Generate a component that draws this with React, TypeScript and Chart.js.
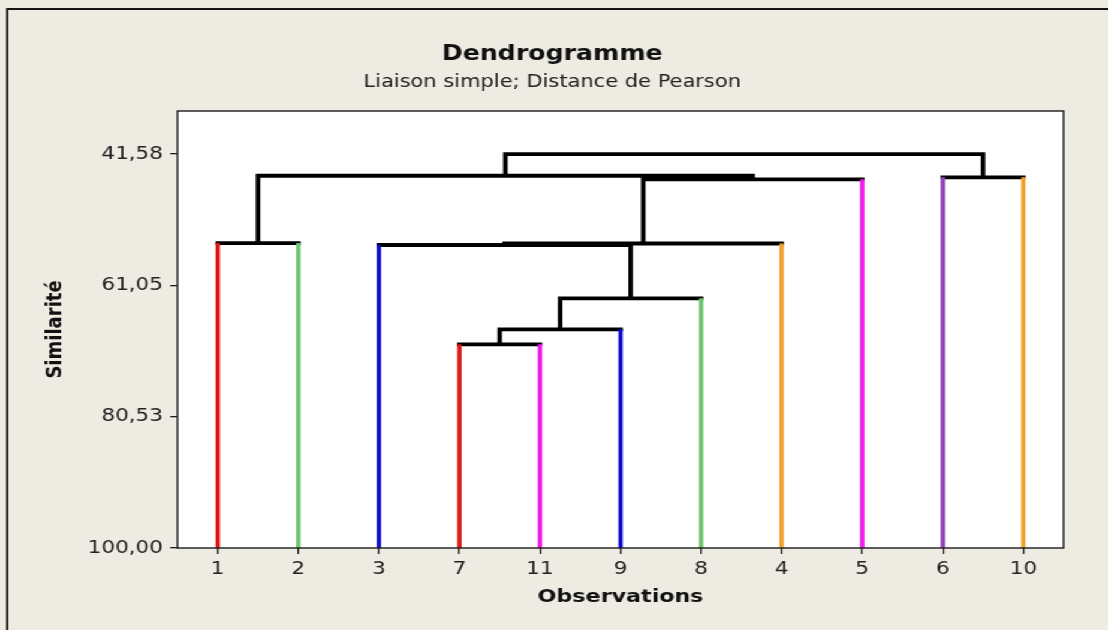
import React, { useEffect, useRef } from "react";
import { Chart, registerables } from "chart.js";

Chart.register(...registerables);

// ---- text ----
const chartTitle = "Dendrogramme";
const chartSubtitle = "Liaison simple; Distance de Pearson";
const xAxisTitle = "Observations";
const yAxisTitle = "Similarité";

// ---- leaves (in dendrogram order) ----
const leafLabels = ["1", "2", "3", "7", "11", "9", "8", "4", "5", "6", "10"];
const leafColors = [
  "#e01414", "#6cc46c", "#0c0cd4", "#e01414", "#f014f0", "#0c0cd4",
  "#6cc46c", "#f0a024", "#f014f0", "#9040b8", "#f0a024",
];

// ---- merges (children 0..10 = leaves by position, 11+k = cluster made by merge k) ----
const mergeLeft = [3, 11, 12, 0, 2, 15, 9, 16, 14, 19];
const mergeRight = [4, 5, 6, 1, 13, 7, 10, 8, 18, 17];
const mergeLevel = [69.8, 67.57, 62.98, 54.78, 55.07, 54.85, 45.03, 45.33, 44.8, 41.58];

// ---- y axis ----
const yTickValues = [41.58, 61.05, 80.53, 100];
const yTickLabels = ["41,58", "61,05", "80,53", "100,00"];
const yTop = 35.2;
const yBottom = 100;

const W = 924;
const H = 630;
const FONT = "'DejaVu Sans', Verdana, sans-serif";

function buildDatasets() {
  const n = leafLabels.length;
  const xs: number[] = leafLabels.map((_, i) => i);
  const parentLevel: (number | undefined)[] = [];
  mergeLeft.forEach((l, k) => {
    const r = mergeRight[k];
    xs.push((xs[l] + xs[r]) / 2);
    parentLevel[l] = mergeLevel[k];
    parentLevel[r] = mergeLevel[k];
  });
  const black: { x: number; y: number | null }[] = [];
  mergeLeft.forEach((l, k) => {
    const r = mergeRight[k];
    const lv = mergeLevel[k];
    black.push({ x: xs[l], y: lv }, { x: xs[r], y: lv }, { x: xs[r], y: null });
    const id = n + k;
    const p = parentLevel[id];
    if (p !== undefined) {
      black.push({ x: xs[id], y: lv }, { x: xs[id], y: p }, { x: xs[id], y: null });
    }
  });
  const sets: any[] = [
    {
      data: black,
      borderColor: "#000000",
      borderWidth: 3.8,
      borderCapStyle: "square",
      pointRadius: 0,
      spanGaps: false,
      tension: 0,
      order: 2,
    },
  ];
  leafLabels.forEach((_, i) => {
    sets.push({
      data: [
        { x: i, y: yBottom },
        { x: i, y: parentLevel[i] as number },
      ],
      borderColor: leafColors[i],
      borderWidth: 3.6,
      borderCapStyle: "butt",
      pointRadius: 0,
      tension: 0,
      order: 1,
    });
  });
  return sets;
}

const framePlugin = {
  id: "frame",
  beforeDraw(chart: any) {
    const { ctx, chartArea: a, width, height } = chart;
    ctx.save();
    ctx.fillStyle = "#eeebe2";
    ctx.fillRect(0, 0, width, height);
    ctx.strokeStyle = "#151515";
    ctx.lineWidth = 1.8;
    ctx.beginPath();
    ctx.moveTo(6, height);
    ctx.lineTo(6, 9);
    ctx.lineTo(width, 9);
    ctx.stroke();
    ctx.fillStyle = "#ffffff";
    ctx.fillRect(a.left, a.top, a.right - a.left, a.bottom - a.top);
    ctx.restore();
  },
  afterDraw(chart: any) {
    const { ctx, chartArea: a } = chart;
    ctx.save();
    ctx.strokeStyle = "#1a1a1a";
    ctx.lineWidth = 1.4;
    ctx.strokeRect(a.left, a.top, a.right - a.left, a.bottom - a.top);
    ctx.restore();
  },
};

export default function App() {
  const ref = useRef<HTMLCanvasElement>(null);
  useEffect(() => {
    if (!ref.current) return;
    const chart = new Chart(ref.current, {
      type: "line",
      data: { datasets: buildDatasets() },
      options: {
        animation: false,
        responsive: false,
        maintainAspectRatio: false,
        events: [],
        layout: { padding: { left: 34, right: 37, top: 0, bottom: 0 } },
        plugins: {
          legend: { display: false },
          tooltip: { enabled: false },
          title: {
            display: true,
            text: chartTitle,
            color: "#111111",
            font: { family: FONT, size: 21, weight: "bold", lineHeight: 1 },
            padding: { top: 44, bottom: 0 },
          },
          subtitle: {
            display: true,
            text: chartSubtitle,
            color: "#222222",
            font: { family: FONT, size: 17.5, weight: "normal", lineHeight: 1 },
            padding: { top: 9, bottom: 19.5 },
          },
        },
        scales: {
          x: {
            type: "linear",
            min: -0.5,
            max: leafLabels.length - 0.5,
            afterBuildTicks: (scale: any) => {
              scale.ticks = leafLabels.map((_, i) => ({ value: i }));
            },
            afterFit: (scale: any) => {
              scale.height = 82;
            },
            ticks: {
              autoSkip: false,
              maxRotation: 0,
              padding: 5,
              color: "#222222",
              font: { family: FONT, size: 18 },
              callback: (_v: any, i: number) => leafLabels[i],
            },
            grid: {
              display: true,
              drawOnChartArea: false,
              drawTicks: true,
              tickLength: 6,
              color: "#1a1a1a",
              lineWidth: 1.3,
            },
            border: { display: false },
            title: {
              display: true,
              text: xAxisTitle,
              color: "#111111",
              font: { family: FONT, size: 18.5, weight: "bold", lineHeight: 1 },
              padding: { top: 0, bottom: 24 },
            },
          },
          y: {
            type: "linear",
            reverse: true,
            min: yTop,
            max: yBottom,
            afterBuildTicks: (scale: any) => {
              scale.ticks = yTickValues.map((v) => ({ value: v }));
            },
            afterFit: (scale: any) => {
              scale.width = 114;
            },
            ticks: {
              padding: 6,
              color: "#222222",
              font: { family: FONT, size: 18 },
              callback: (_v: any, i: number) => yTickLabels[i],
            },
            grid: {
              display: true,
              drawOnChartArea: false,
              drawTicks: true,
              tickLength: 6,
              color: "#1a1a1a",
              lineWidth: 1.3,
            },
            border: { display: false },
            title: {
              display: true,
              text: yAxisTitle,
              color: "#111111",
              font: { family: FONT, size: 18, weight: "bold", lineHeight: 1 },
              padding: { top: 3, bottom: 0 },
            },
          },
        },
      } as any,
      plugins: [framePlugin],
    });
    return () => chart.destroy();
  }, []);

  return (
    <div
      style={{
        position: "absolute",
        left: 0,
        top: 0,
        width: W,
        height: H,
        transform: `scaleX(${1108 / W})`,
        transformOrigin: "0 0",
        background: "#eeebe2",
      }}
    >
      <canvas ref={ref} width={W} height={H} style={{ display: "block", width: W, height: H }} />
    </div>
  );
}
